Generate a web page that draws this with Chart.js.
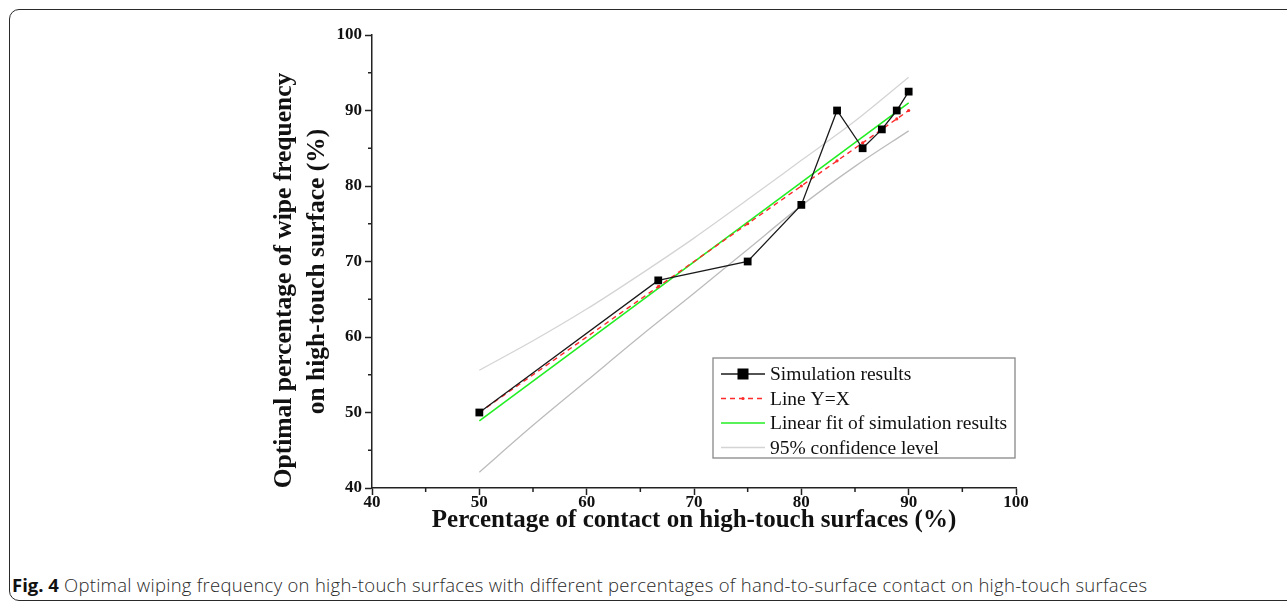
<!DOCTYPE html>
<html>
<head>
<meta charset="utf-8">
<script src="https://cdn.jsdelivr.net/npm/chart.js@4"></script>
<style>
  html, body { margin: 0; padding: 0; background: #fff; }
  body { width: 1287px; height: 601px; position: relative; overflow: hidden; }
  .frame { position: absolute; left: 9px; top: 9px; width: 1300px; height: 590px;
           border: 1.5px solid #2a2a2a; border-radius: 10px; }
  .wrap { position: absolute; left: 0; top: 0; width: 1287px; height: 540px; }
  .caption { position: absolute; left: 12px; top: 572px; font-family: "Open Sans", sans-serif;
             font-size: 18.5px; font-weight: 300; color: #2a2a2a; white-space: nowrap; letter-spacing: 0.27px; }
  .caption b { font-weight: 700; color: #111; letter-spacing: 0; }
</style>
</head>
<body>
<div class="frame"></div>
<div class="wrap"><canvas id="c"></canvas></div>
<div class="caption"><b>Fig. 4</b> Optimal wiping frequency on high-touch surfaces with different percentages of hand-to-surface contact on high-touch surfaces</div>
<script>
// values
const xVals = [50, 66.67, 75, 80, 83.33, 85.71, 87.5, 88.89, 90]
const simY = [50, 67.5, 70, 77.5, 90, 85, 87.5, 90, 92.5]
const lineYX = [50, 66.67, 75, 80, 83.33, 85.71, 87.5, 88.89, 90]
const fitX = [50, 90]
const fitY = [48.9, 91.0]
const bandX = [50, 55, 60, 65, 70, 75, 80, 85, 90]
const bandUpper = [55.6, 59.5, 63.7, 68.3, 73.1, 78.2, 83.4, 88.6, 94.4]
const bandLower = [42.1, 48.3, 54.2, 60.1, 65.8, 71.6, 77.4, 82.6, 87.3]
const xTicks = [40, 50, 60, 70, 80, 90, 100]
const yTicks = [40, 50, 60, 70, 80, 90, 100]
const yTitle = ['Optimal percentage of wipe frequency', 'on high-touch surface (%)']

const pts = (xs, ys) => xs.map((x, i) => ({x: x, y: ys[i]}))
const serif = '"Liberation Serif", "Times New Roman", serif'

// draws the half-step ticks that Origin puts between labelled ones
const minorTicks = {
  id: 'minorTicks',
  afterDraw(chart) {
    const ctx = chart.ctx
    const xs = chart.scales.x, ys = chart.scales.y
    const a = chart.chartArea
    ctx.save()
    ctx.strokeStyle = '#222'
    ctx.lineWidth = 1.5
    ctx.beginPath()
    for (let i = 0; i < xTicks.length - 1; i++) {
      const px = xs.getPixelForValue((xTicks[i] + xTicks[i + 1]) / 2)
      ctx.moveTo(px, a.bottom); ctx.lineTo(px, a.bottom + 4)
    }
    for (let i = 0; i < yTicks.length - 1; i++) {
      const py = ys.getPixelForValue((yTicks[i] + yTicks[i + 1]) / 2)
      ctx.moveTo(a.left, py); ctx.lineTo(a.left - 4, py)
    }
    ctx.stroke()
    ctx.restore()
  }
}

// y title drawn by hand, it sits a bit below the middle of the axis
const yTitlePlugin = {
  id: 'yTitle',
  afterDraw(chart) {
    const ctx = chart.ctx
    const a = chart.chartArea
    const mid = (a.top + a.bottom) / 2
    ctx.save()
    ctx.font = 'bold 25.5px ' + serif
    ctx.fillStyle = '#111'
    ctx.textAlign = 'center'
    ctx.textBaseline = 'middle'
    const spots = [[a.left - 88, mid + 19], [a.left - 55, mid + 10]]
    yTitle.forEach((t, i) => {
      ctx.save()
      ctx.translate(spots[i][0], spots[i][1])
      ctx.rotate(-Math.PI / 2)
      ctx.fillText(t, 0, 0)
      ctx.restore()
    })
    ctx.restore()
  }
}

// legend box sitting inside the plot, lower right
const boxLegend = {
  id: 'boxLegend',
  afterDraw(chart) {
    const ctx = chart.ctx
    const a = chart.chartArea
    const bx = a.right - 303, by = a.top + 323, bw = 302, bh = 100
    ctx.save()
    ctx.fillStyle = '#fff'
    ctx.fillRect(bx, by, bw, bh)
    ctx.strokeStyle = '#888'
    ctx.lineWidth = 1.3
    ctx.strokeRect(bx, by, bw, bh)
    const items = chart.data.datasets.filter(d => !d.hideInLegend)
    ctx.font = '19.5px ' + serif
    ctx.textBaseline = 'middle'
    items.forEach((d, i) => {
      const y = by + 16 + i * 24.5
      ctx.strokeStyle = d.borderColor
      ctx.lineWidth = d.borderWidth
      ctx.setLineDash(d.borderDash || [])
      ctx.beginPath()
      ctx.moveTo(bx + 8, y); ctx.lineTo(bx + 52, y)
      ctx.stroke()
      ctx.setLineDash([])
      if (d.pointRadius > 0) {
        ctx.fillStyle = d.pointBackgroundColor
        const r = d.pointRadius
        if (d.pointStyle === 'rect') ctx.fillRect(bx + 30 - r, y - r, 2 * r, 2 * r)
        else { ctx.beginPath(); ctx.arc(bx + 30, y, r, 0, Math.PI * 2); ctx.fill() }
      }
      ctx.fillStyle = '#111'
      ctx.fillText(d.label, bx + 57, y + 1)
    })
    ctx.restore()
  }
}

new Chart(document.getElementById('c'), {
  type: 'scatter',
  data: {
    datasets: [{
      label: 'Simulation results',
      data: pts(xVals, simY),
      showLine: true,
      borderColor: '#1a1a1a',
      borderWidth: 1.3,
      pointStyle: 'rect',
      pointRadius: 5.5,
      pointBackgroundColor: '#000',
      pointBorderColor: '#000',
      pointBorderWidth: 0
    }, {
      label: 'Line Y=X',
      data: pts(xVals, lineYX),
      showLine: true,
      borderColor: '#ff2a2a',
      borderWidth: 1.4,
      borderDash: [5, 4],
      pointRadius: 1.6,
      pointBackgroundColor: '#ff2a2a',
      pointBorderWidth: 0
    }, {
      label: 'Linear fit of simulation results',
      data: pts(fitX, fitY),
      showLine: true,
      borderColor: '#22ee22',
      borderWidth: 1.6,
      pointRadius: 0
    }, {
      label: '95% confidence level',
      data: pts(bandX, bandUpper),
      showLine: true,
      borderColor: '#d4d4d4',
      borderWidth: 1.3,
      cubicInterpolationMode: 'monotone',
      pointRadius: 0
    }, {
      label: '95% confidence level',
      hideInLegend: true,
      data: pts(bandX, bandLower),
      showLine: true,
      borderColor: '#bcbcbc',
      borderWidth: 1.3,
      cubicInterpolationMode: 'monotone',
      pointRadius: 0
    }]
  },
  options: {
    responsive: true,
    maintainAspectRatio: false,
    animation: false,
    layout: {padding: {left: 268, right: 271, top: 35, bottom: 4}},
    plugins: {
      legend: {display: false},
      tooltip: {enabled: false}
    },
    scales: {
      x: {
        min: 40, max: 100,
        afterBuildTicks: s => { s.ticks = xTicks.map(v => ({value: v})) },
        afterFit: s => { s.height = 48 },
        border: {display: true, color: '#222', width: 1.5},
        grid: {drawOnChartArea: false, tickLength: 7, tickWidth: 1.5, tickColor: '#222'},
        ticks: {color: '#111', padding: -3, font: {family: serif, size: 17, weight: 'bold'}},
        title: {
          display: true,
          text: 'Percentage of contact on high-touch surfaces (%)',
          color: '#111',
          padding: {top: -7, bottom: 0},
          font: {family: serif, size: 25, weight: 'bold'}
        }
      },
      y: {
        min: 40, max: 100,
        afterBuildTicks: s => { s.ticks = yTicks.map(v => ({value: v})) },
        afterFit: s => { s.width = 104 },
        border: {display: true, color: '#222', width: 1.5},
        grid: {drawOnChartArea: false, tickLength: 7, tickWidth: 1.5, tickColor: '#222'},
        ticks: {color: '#111', padding: 3, font: {family: serif, size: 17, weight: 'bold'}},
        title: {display: false}
      }
    }
  },
  plugins: [minorTicks, yTitlePlugin, boxLegend]
})
</script>
</body>
</html>
